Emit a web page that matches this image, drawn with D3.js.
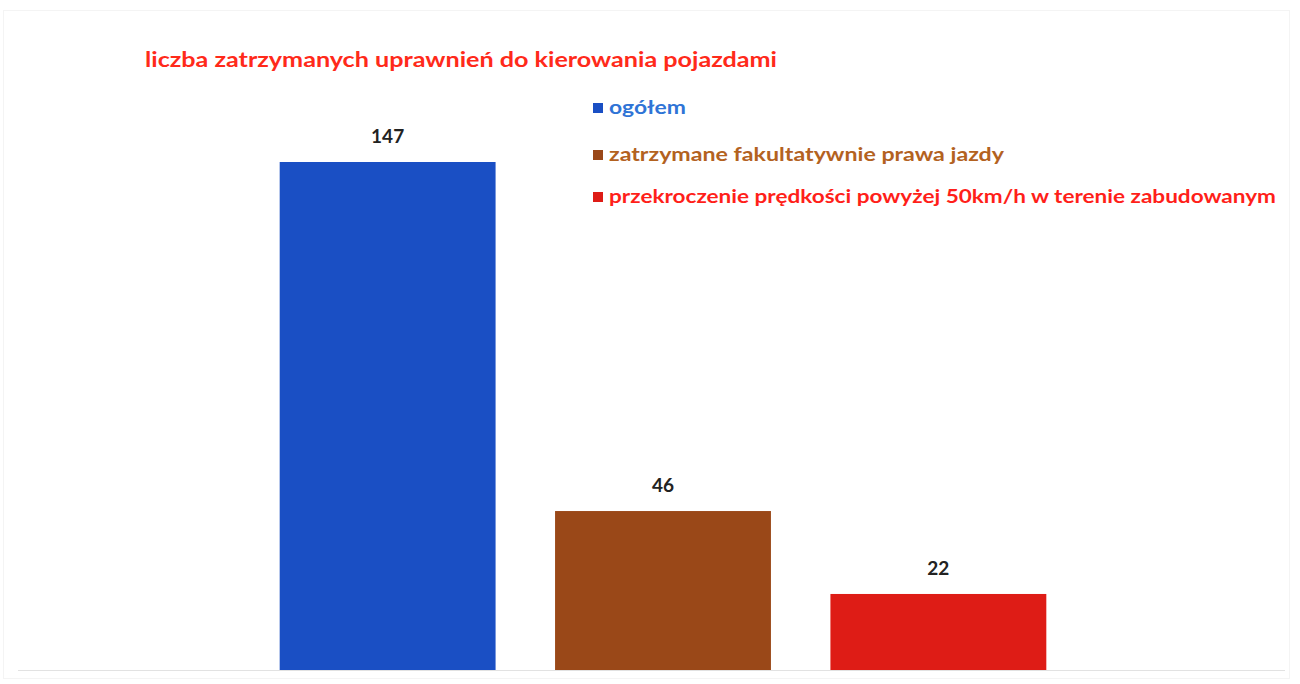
<!DOCTYPE html>
<html><head><meta charset="utf-8">
<script src="https://cdn.jsdelivr.net/npm/d3@7"></script>
<style>body{margin:0;background:#fff}svg{display:block}</style>
</head><body>
<script>
const categories = ["ogółem", "zatrzymane fakultatywnie prawa jazdy", "przekroczenie prędkości powyżej 50km/h w terenie zabudowanym"];
const values = [147, 46, 22];
const barColors = ["#1a4fc4", "#9a4818", "#de1c16"];
const legendColors = ["#2f74d6", "#b3621f", "#ff1f1a"];
const title = "liczba zatrzymanych uprawnień do kierowania pojazdami";

const W = 1300, H = 684;
const svg = d3.select("body").append("svg").attr("width", W).attr("height", H);
const font = "Lato, 'Open Sans', sans-serif";

// faint frame
svg.append("rect").attr("x", 3.5).attr("y", 10.5).attr("width", 1286).attr("height", 668)
  .attr("fill", "none").attr("stroke", "#f4f4f4").attr("stroke-width", 1);

const x = d3.scaleBand().domain(categories).range([142, 1184]).paddingInner(0.216).paddingOuter(0.5);
const y = d3.scaleLinear().domain([0, 147]).range([670, 162]);

svg.append("text").attr("x", 145).attr("y", 67).attr("fill", "#ff2a1a")
  .attr("font-family", font).attr("font-weight", "bold").attr("font-size", 20.5)
  .attr("textLength", 632).attr("lengthAdjust", "spacingAndGlyphs").text(title);

svg.append("line").attr("x1", 18).attr("x2", 1285).attr("y1", 670.5).attr("y2", 670.5)
  .attr("stroke", "#e2e2e2");

svg.selectAll("rect.bar").data(values).join("rect").attr("class", "bar")
  .attr("x", (d, i) => x(categories[i])).attr("width", x.bandwidth())
  .attr("y", d => y(d)).attr("height", d => y(0) - y(d))
  .attr("fill", (d, i) => barColors[i]);

svg.selectAll("text.lbl").data(values).join("text").attr("class", "lbl")
  .attr("x", (d, i) => x(categories[i]) + x.bandwidth() / 2).attr("y", d => y(d) - 19)
  .attr("text-anchor", "middle").attr("fill", "#222").attr("font-family", font)
  .attr("font-weight", "bold").attr("font-size", 19).text(d => d);

const legY = [108, 155, 197];
const legW = [77, 395, 667];
const lg = svg.selectAll("g.leg").data(categories).join("g").attr("class", "leg")
  .attr("transform", (d, i) => `translate(593,${legY[i]})`);
lg.append("rect").attr("x", 0).attr("y", -5).attr("width", 10).attr("height", 10)
  .attr("fill", (d, i) => barColors[i]);
lg.append("text").attr("x", 16).attr("y", 6).attr("fill", (d, i) => legendColors[i])
  .attr("font-family", font).attr("font-weight", "bold").attr("font-size", 18.5)
  .attr("textLength", (d, i) => legW[i]).attr("lengthAdjust", "spacingAndGlyphs").text(d => d);
</script>
</body></html>
